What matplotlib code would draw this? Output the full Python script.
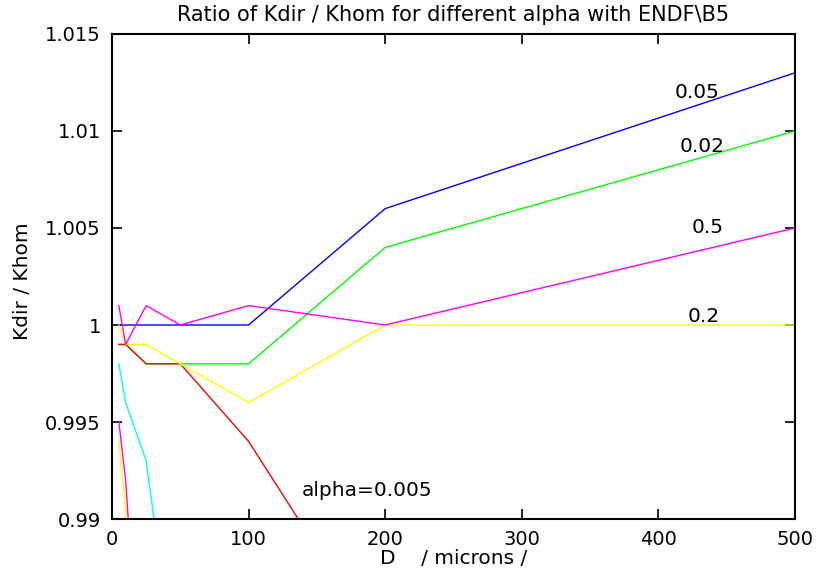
import matplotlib
matplotlib.use("Agg")
import matplotlib.pyplot as plt

plt.rcParams["font.family"] = ["DejaVu Sans"]

# D in microns and Kdir/Khom ratio per alpha
d_full = [5, 10, 25, 50, 100, 200, 500]
ratio_005 = [1.000, 1.000, 1.000, 1.000, 1.000, 1.006, 1.013]   # alpha = 0.05
ratio_002 = [0.999, 0.999, 0.998, 0.998, 0.998, 1.004, 1.010]   # alpha = 0.02
ratio_05 = [1.001, 0.999, 1.001, 1.000, 1.001, 1.000, 1.005]    # alpha = 0.5
ratio_02 = [1.000, 0.999, 0.999, 0.998, 0.996, 1.000, 1.000]    # alpha = 0.2
ratio_0005 = [0.999, 0.999, 0.998, 0.998, 0.994, 0.983]        # alpha = 0.005
d_0005 = [5, 10, 25, 50, 100, 200]

# small alpha curves that drop off the bottom of the plot
d_low_y = [5, 10, 25]
ratio_low_y = [0.994, 0.9905, 0.975]
d_low_m = [5, 10, 25]
ratio_low_m = [0.995, 0.992, 0.976]
d_low_c = [5, 10, 25, 50]
ratio_low_c = [0.998, 0.996, 0.993, 0.980]

fig = plt.figure(figsize=(8.17, 5.77), dpi=100)
ax = fig.add_axes([0.1371, 0.1005, 0.836, 0.8406])

lw = 1.0
ax.plot(d_low_y, ratio_low_y, color="#ffff00", lw=lw)
ax.plot(d_low_m, ratio_low_m, color="#ff00ff", lw=lw)
ax.plot(d_low_c, ratio_low_c, color="#00ffff", lw=lw)
ax.plot(d_full, ratio_002, color="#00ff00", lw=lw)
ax.plot(d_0005, ratio_0005, color="#ff0000", lw=lw)
ax.plot(d_full, ratio_005, color="#0000ff", lw=lw)
ax.plot(d_full, ratio_02, color="#ffff00", lw=lw)
ax.plot(d_full, ratio_05, color="#ff00ff", lw=lw)

ax.set_xlim(0, 500)
ax.set_ylim(0.99, 1.015)
ax.set_xticks([0, 100, 200, 300, 400, 500])
ax.set_yticks([0.99, 0.995, 1.0, 1.005, 1.01, 1.015])
ax.set_yticklabels(["0.99", "0.995", "1", "1.005", "1.01", "1.015"])
ax.tick_params(direction="in", length=7, width=1.2, top=True, right=True,
               labelsize=14)
ax.tick_params(axis="x", pad=8)
ax.tick_params(axis="y", pad=8)
for sp in ax.spines.values():
    sp.set_linewidth(1.5)

ax.text(428, 1.01196, "0.05", fontsize=14.5, ha="center", va="center")
ax.text(432, 1.00918, "0.02", fontsize=14.5, ha="center", va="center")
ax.text(436, 1.0050, "0.5", fontsize=14.5, ha="center", va="center")
ax.text(433, 1.00046, "0.2", fontsize=14.5, ha="center", va="center")
ax.text(187, 0.99149, "alpha=0.005", fontsize=14.5, ha="center", va="center")

ax.set_title("Ratio of Kdir / Khom for different alpha with ENDF\\B5",
             fontsize=15, pad=9)
ax.set_xlabel("D    / microns /", fontsize=14.5)
ax.set_ylabel("Kdir / Khom", fontsize=14.5)
ax.xaxis.set_label_coords(0.5, -0.062)
ax.yaxis.set_label_coords(-0.117, 0.49)

fig.savefig("out.png", dpi=100)
